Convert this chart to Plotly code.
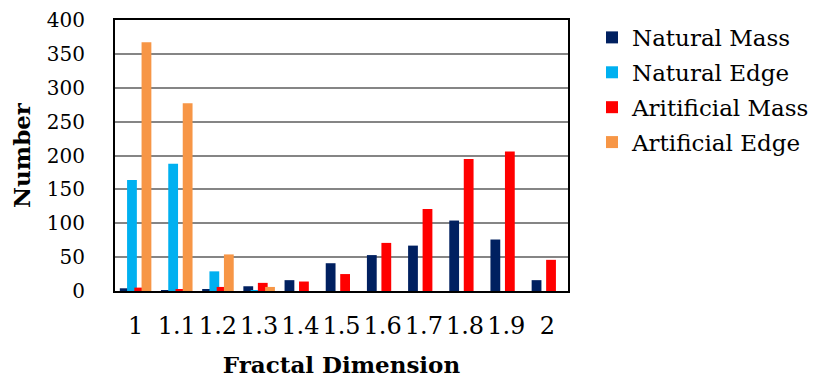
import plotly.graph_objects as go

categories = ["1", "1.1", "1.2", "1.3", "1.4", "1.5", "1.6", "1.7", "1.8", "1.9", "2"]
natural_mass = [4, 1, 3, 7, 16, 41, 53, 67, 104, 76, 16]
natural_edge = [164, 188, 29, 1, 0, 0, 0, 0, 0, 0, 0]
artificial_mass = [5, 2, 6, 12, 14, 25, 71, 121, 195, 206, 46]
artificial_edge = [367, 277, 54, 6, 0, 0, 0, 0, 0, 0, 0]
series_names = ["Natural Mass", "Natural Edge", "Aritificial Mass", "Artificial Edge"]
colors = ["#002060", "#00B0F0", "#FF0000", "#F79646"]
y_ticks = [0, 50, 100, 150, 200, 250, 300, 350, 400]

FONT = "DejaVu Serif"
series = [natural_mass, natural_edge, artificial_mass, artificial_edge]
offsets = [-0.383, -0.207, -0.031, 0.145]
bar_w = 0.238

fig = go.Figure()
for i, (name, vals, col) in enumerate(zip(series_names, series, colors)):
    fig.add_trace(go.Bar(
        x=categories, y=vals, name=name,
        marker=dict(color=col, line=dict(width=0)),
        width=bar_w, offset=offsets[i],
        legendgroup=name,
    ))

# page body has an 8px margin; compensate so the plot lands where the reference has it
PAD = 8
W, H = 825 - PAD, 380 - PAD
L, R, T, B = 115 - PAD, 568 - PAD, 20 - PAD, 291 - PAD
fig.update_layout(
    width=W, height=H,
    margin=dict(l=L, r=W - R, t=T, b=H - B, autoexpand=False),
    barmode="overlay",
    paper_bgcolor="white", plot_bgcolor="white",
    font=dict(family=FONT, color="black", size=20),
    showlegend=True,
    legend=dict(
        x=(592 - PAD - L) / (R - L), xanchor="left",
        y=1.015, yanchor="top",
        font=dict(family=FONT, size=23, color="black"),
        traceorder="grouped", tracegroupgap=2,
        bgcolor="rgba(0,0,0,0)",
    ),
    xaxis=dict(
        type="category",
        showline=True, linecolor="black", linewidth=2, mirror=True,
        showgrid=False, ticks="", ticklabelstandoff=12,
        tickfont=dict(family=FONT, size=24),
        title=dict(text="<b>Fractal Dimension</b>", font=dict(family=FONT, size=23), standoff=18),
    ),
    yaxis=dict(
        range=[0, 400], tickvals=y_ticks,
        showline=True, linecolor="black", linewidth=2, mirror=True,
        showgrid=True, gridcolor="#858585", gridwidth=2,
        zeroline=False, ticks="", ticklabelstandoff=24,
        tickfont=dict(family=FONT, size=20),
        title=dict(text="<b>Number</b>", font=dict(family=FONT, size=23), standoff=10),
    ),
)

fig.write_html("out.html")
